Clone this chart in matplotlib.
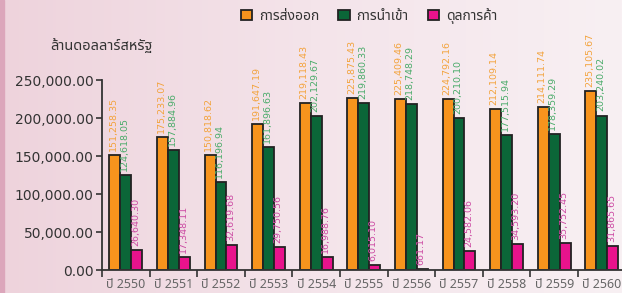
import numpy as np
import matplotlib
matplotlib.use("Agg")
import matplotlib.pyplot as plt
from matplotlib import font_manager
from matplotlib.ft2font import FT2Font
from matplotlib.ticker import FuncFormatter
from matplotlib.colors import LinearSegmentedColormap

years = ["ปี 2550", "ปี 2551", "ปี 2552", "ปี 2553", "ปี 2554", "ปี 2555",
         "ปี 2556", "ปี 2557", "ปี 2558", "ปี 2559", "ปี 2560"]
exports = [151258.35, 175233.07, 150818.62, 191647.19, 219118.43, 225875.43,
           225409.46, 224792.16, 212109.14, 214111.74, 235105.67]
imports = [124618.05, 157884.96, 116196.94, 161896.63, 202129.67, 219860.33,
           218748.29, 200210.10, 177515.94, 178359.29, 203240.02]
balance = [26640.30, 17348.11, 32619.68, 29750.56, 16988.76, 6015.10,
           661.17, 24582.06, 34593.20, 35752.45, 31865.65]
series_names = ["การส่งออก", "การนำเข้า", "ดุลการค้า"]
unit_label = "ล้านดอลลาร์สหรัฐ"


# pick an installed font that has Thai glyphs, preferring a few known ones
def thai_font():
    found = set()
    for path in font_manager.findSystemFonts():
        try:
            if ord("ก") in FT2Font(path).get_charmap():
                found.add(font_manager.FontProperties(fname=path).get_name())
        except Exception:
            pass
    for name in ["Noto Sans Thai", "Noto Sans Thai UI", "Sarabun", "Prompt",
                 "Kanit", "IBM Plex Sans Thai", "Bai Jamjuree", "Athiti"]:
        if name in found:
            return [name]
    return sorted(found)[:1]


THAI = thai_font() + ["DejaVu Sans"]

fig = plt.figure(figsize=(6.22, 2.93), dpi=100)

# pink background gradient
bg = fig.add_axes([0, 0, 1, 1], zorder=-10)
grad = np.linspace(0, 1, 256).reshape(1, -1)
cmap = LinearSegmentedColormap.from_list("bg", ["#eed3dc", "#f4e4ea", "#f8f0f3"])
bg.imshow(grad, aspect="auto", cmap=cmap, extent=[0, 1, 0, 1])
bg.axvspan(0, 0.006, color="#dca6bb")
bg.set_axis_off()

W, H = 622, 293
ax = fig.add_axes([102 / W, (H - 270) / H, 523.6 / W, 190 / H])
ax.patch.set_visible(False)

x = np.arange(len(years))
w = 0.23
colors = ["#f7941d", "#0b6638", "#e8138c"]
text_colors = ["#f3a33c", "#4aab6a", "#cc4aa3"]
data = [exports, imports, balance]

for k, (vals, c, tc, name) in enumerate(zip(data, colors, text_colors, series_names)):
    pos = x + (k - 1) * w
    ax.bar(pos, vals, width=w, color=c, edgecolor="#222222", linewidth=1.3, label=name)
    for px, v in zip(pos, vals):
        ax.annotate(f"{v:,.2f}", (px, v), xytext=(-1, 3), textcoords="offset points",
                    rotation=90, ha="center", va="bottom", fontsize=6.8, color=tc,
                    family="DejaVu Sans", annotation_clip=False)

ax.set_xlim(-0.5, 10.5)
ax.set_ylim(0, 250000)
ax.set_yticks(np.arange(0, 250001, 50000))
ax.yaxis.set_major_formatter(FuncFormatter(lambda v, p: f"{v:,.2f}"))
ax.tick_params(axis="y", labelsize=10, colors="#333333", length=4, width=1.2, pad=2)
for t in ax.get_yticklabels():
    t.set_family("DejaVu Sans")
ax.set_xticks(np.arange(-0.5, 10.5, 1))
ax.set_xticklabels([])
ax.set_xticks(x, minor=True)
ax.set_xticklabels(years, minor=True, fontsize=9, color="#666666", family=THAI)
ax.tick_params(axis="x", which="major", length=5, width=1.2, color="#333333")
ax.tick_params(axis="x", which="minor", length=0, pad=6)
for s in ["top", "right"]:
    ax.spines[s].set_visible(False)
for s in ["left", "bottom"]:
    ax.spines[s].set_color("#333333")
    ax.spines[s].set_linewidth(1.3)

fig.text(50 / W, 1 - 47 / H, unit_label, fontsize=10.5, color="#333333", va="center",
         family=THAI)

fig.legend(loc="center", bbox_to_anchor=(369 / W, 1 - 16 / H), ncol=3, frameon=False,
           prop={"family": THAI, "size": 10}, handlelength=0.8, handleheight=0.8,
           handletextpad=0.5, columnspacing=1.4, labelcolor="#333333")

fig.savefig("out.png", dpi=100)
